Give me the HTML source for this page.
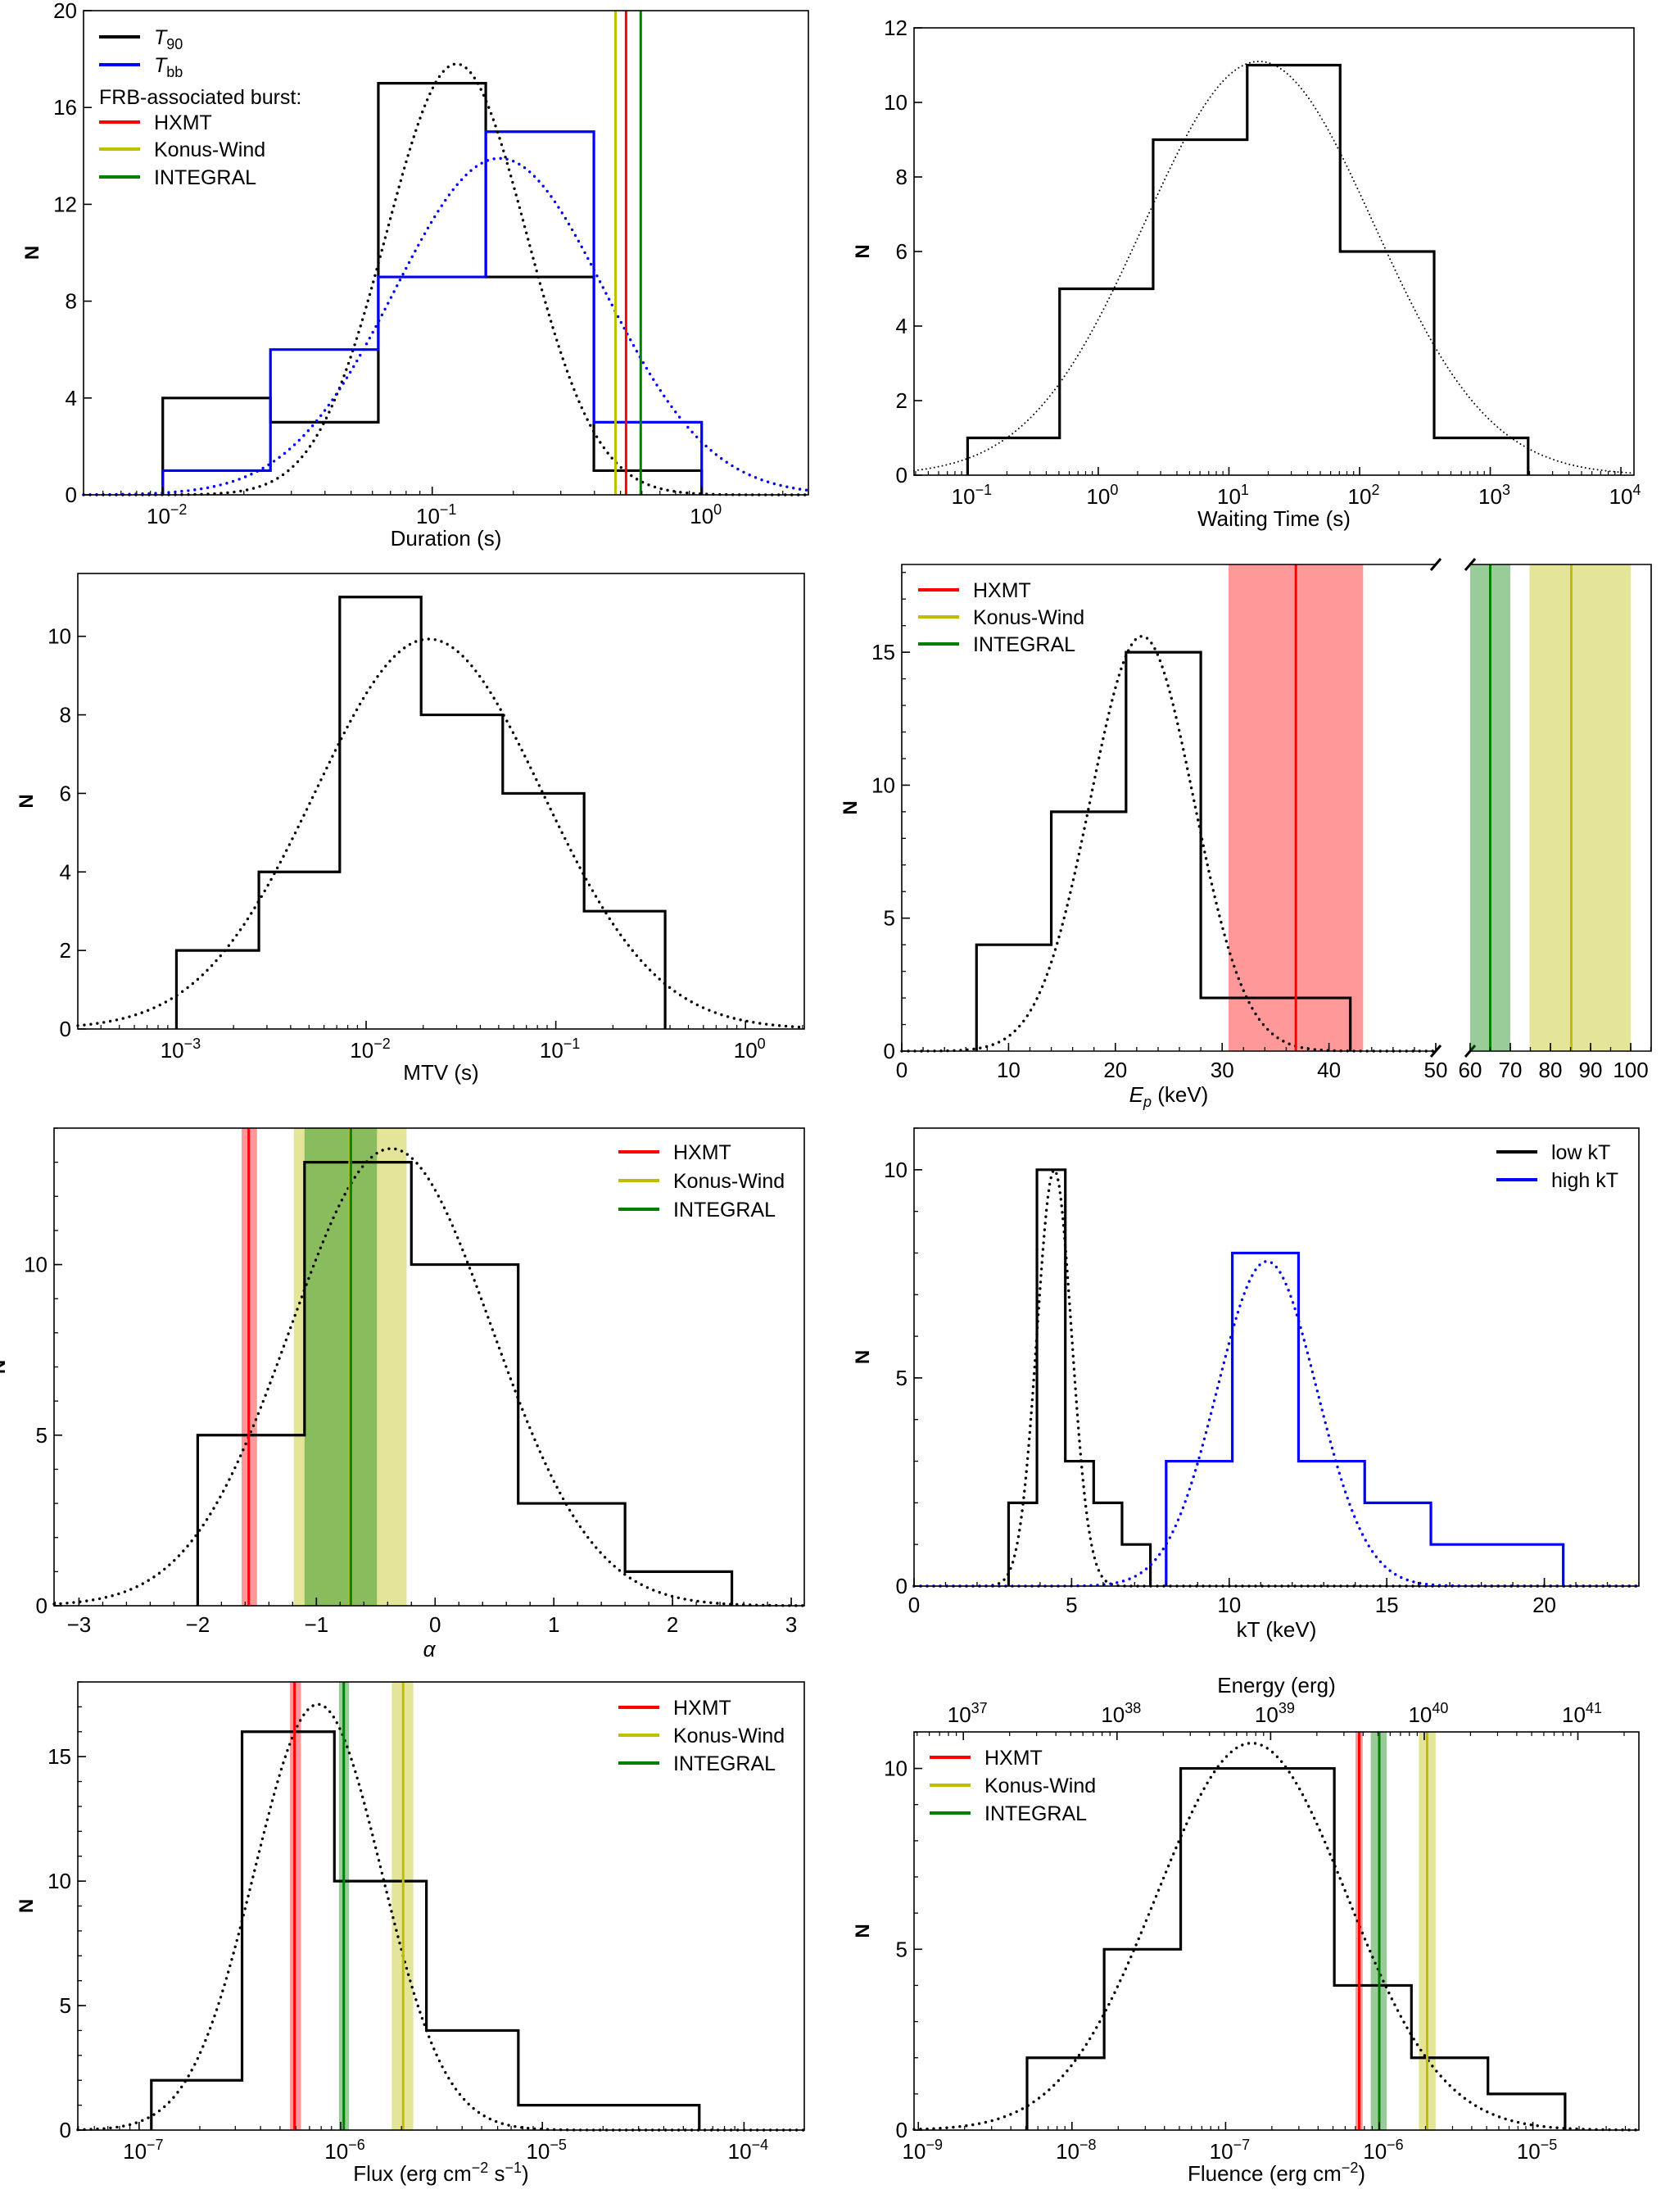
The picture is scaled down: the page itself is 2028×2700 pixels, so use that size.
<!DOCTYPE html>
<html><head><meta charset="utf-8"><title>Burst property histograms</title>
<style>
html,body{margin:0;padding:0;background:#fff;}
svg{display:block;font-family:"Liberation Sans",sans-serif;}
</style></head>
<body>
<svg id="fig" xmlns="http://www.w3.org/2000/svg" width="2028" height="2700" viewBox="0 0 2028 2700"></svg>
<script>
// ---------- Panel 1: Duration ----------
const durEdges=[0.01,0.0251,0.0631,0.158,0.398,1.0];
const t90Counts=[4,3,17,9,1];
const tbbCounts=[1,6,9,15,3];
const t90Fit=[17.8,-0.91,0.26];
const tbbFit=[13.9,-0.75,0.39];
const durBurstNames=['Konus-Wind','HXMT','INTEGRAL'];
const durBurstValues=[0.479,0.524,0.594];
// ---------- Panel 2: Waiting time ----------
const waitEdges=[0.1,0.506,2.63,13.8,71,372,1950];
const waitCounts=[1,5,9,11,6,1];
const waitFit=[11.1,1.23,0.88];
// ---------- Panel 3: MTV ----------
const mtvEdges=[0.001,0.00272,0.00726,0.0195,0.0525,0.141,0.377];
const mtvCounts=[2,4,11,8,6,3];
const mtvFit=[9.93,-1.67,0.6];
// ---------- Panel 4: Ep ----------
const epEdges=[7,14,21,28,42];
const epCounts=[4,9,15,2];
const epFit=[15.6,22.5,4.84];
const epHxmt=[36.9,30.6,43.2];
const epKonus=[85.2,74.8,100];
const epIntegral=[65,60,70];
// ---------- Panel 5: alpha ----------
const alphaEdges=[-2,-1.1,-0.2,0.7,1.6,2.5];
const alphaCounts=[5,13,10,3,1];
const alphaFit=[13.4,-0.37,0.85];
const alphaHxmt=[-1.57,-1.63,-1.5];
const alphaKonus=[-0.72,-1.19,-0.24];
const alphaIntegral=[-0.71,-1.1,-0.49];
// ---------- Panel 6: kT ----------
const lowEdges=[3,3.9,4.8,5.7,6.6,7.5];
const lowCounts=[2,10,3,2,1];
const lowFit=[10,4.45,0.55];
const highEdges=[8,10.1,12.2,14.3,16.4,18.5,20.6];
const highCounts=[3,8,3,2,1,1];
const highFit=[7.8,11.2,1.58];
// ---------- Panel 7: Flux ----------
const fluxEdges=[1.15e-7,3.24e-7,9.3e-7,2.66e-6,7.6e-6,2.14e-5,6.0e-5];
const fluxCounts=[2,16,10,4,1,1];
const fluxFit=[17.1,-6.113,0.316];
const fluxHxmt=[5.9e-7,5.6e-7,6.35e-7];
const fluxKonus=[2.04e-6,1.79e-6,2.29e-6];
const fluxIntegral=[1.035e-6,0.98e-6,1.1e-6];
// ---------- Panel 8: Fluence ----------
const fluEdges=[5.1e-9,1.62e-8,5.1e-8,1.62e-7,5.1e-7,1.62e-6,5.1e-6,1.62e-5];
const fluCounts=[2,5,10,10,4,2,1];
const fluFit=[10.7,-6.83,0.62];
const fluHxmt=[7.4e-7,7.0e-7,7.8e-7];
const fluKonus=[2.05e-6,1.81e-6,2.33e-6];
const fluIntegral=[1.0e-6,0.88e-6,1.12e-6];
const energyOffset=45.707;

const NS='http://www.w3.org/2000/svg';
const svg=document.getElementById('fig');
const RED='#ff0000',YEL='#bfbf00',GRN='#008000',BLU='#0000ff';
const TF=26;
function mk(tag,attrs,parent){const e=document.createElementNS(NS,tag);for(const k in attrs)e.setAttribute(k,attrs[k]);parent.appendChild(e);return e;}

function makeAxes(name,L,R,T,B,xmin,xmax,xlog,ymin,ymax){
  const g=mk('g',{},svg);
  
  
  const st=t=>L+(t-xmin)/(xmax-xmin)*(R-L);
  const tr=v=>xlog?Math.log10(v):v;
  const sx=v=>st(tr(v));
  const sy=v=>B-(v-ymin)/(ymax-ymin)*(B-T);
  return {g,L,R,T,B,xmin,xmax,xlog,ymin,ymax,st,sx,sy,tr};
}
function frame(p){
  const r=mk('rect',{x:p.L,y:p.T,width:p.R-p.L,height:p.B-p.T,fill:'none',stroke:'#000','stroke-width':1.6},p.g);
  
  
}
function yTicks(p,majors,minorStep,x0){
  const L=x0===undefined?p.L:x0;
  const grp=mk('g',{},p.g);
  
  
  if(minorStep){for(let v=p.ymin;v<=p.ymax+1e-9;v+=minorStep){mk('line',{x1:L,x2:L+5,y1:p.sy(v),y2:p.sy(v),stroke:'#000','stroke-width':1.3},grp);}}
  majors.forEach(v=>{
    mk('line',{x1:L,x2:L+10,y1:p.sy(v),y2:p.sy(v),stroke:'#000','stroke-width':1.6},grp);
    const t=mk('text',{x:L-8,y:p.sy(v)+9,'text-anchor':'end','font-size':TF},grp);
    t.textContent=String(v);
    
    
  });
}
function xTicksLin(p,majors,minorStep,from,to){
  const grp=mk('g',{},p.g);
  
  
  if(minorStep){for(let v=from;v<=to+1e-9;v+=minorStep){mk('line',{x1:p.sx(v),x2:p.sx(v),y1:p.B,y2:p.B-5,stroke:'#000','stroke-width':1.3},grp);}}
  majors.forEach(v=>{
    mk('line',{x1:p.sx(v),x2:p.sx(v),y1:p.B,y2:p.B-10,stroke:'#000','stroke-width':1.6},grp);
    const t=mk('text',{x:p.sx(v),y:p.B+32,'text-anchor':'middle','font-size':TF},grp);
    t.textContent=String(v).replace('-','\u2212');
    
    
  });
}
function logLabel(parent,x,y,exp){
  const t=mk('text',{x:x,y:y,'text-anchor':'middle','font-size':TF},parent);
  t.textContent='10';
  const s=mk('tspan',{dy:-11,'font-size':18},t);
  s.textContent=String(exp).replace('-','\u2212');
  return t;
}
function xTicksLog(p,top,offset){
  const off=offset||0;
  const grp=mk('g',{},p.g);
  
  
  const y0=top?p.T:p.B, dir=top?1:-1;
  for(let d=Math.floor(p.xmin+off)-1;d<=Math.ceil(p.xmax+off);d++){
    for(let k=1;k<10;k++){
      const t=d+Math.log10(k)-off;
      if(t<p.xmin||t>p.xmax)continue;
      const len=k===1?10:5;
      mk('line',{x1:p.st(t),x2:p.st(t),y1:y0,y2:y0+dir*len,stroke:'#000','stroke-width':k===1?1.6:1.2},grp);
      if(k===1){
        const lab=logLabel(grp,p.st(t)+5,top?p.T-12:p.B+35,d);
        
        
      }
    }
  }
}
function yTitle(p,x){
  const cy=(p.T+p.B)/2;
  const t=mk('text',{x:x,y:cy,'text-anchor':'middle','font-size':24,'font-weight':'bold',transform:`rotate(-90 ${x} ${cy})`},p.g);
  t.textContent='N';
  
  
}
function xTitle(p,html,cx){
  const t=mk('text',{x:cx===undefined?(p.L+p.R)/2:cx,y:p.B+62,'text-anchor':'middle','font-size':TF},p.g);
  t.innerHTML=html;
  
  
  return t;
}
function hist(p,edges,counts,color,name){
  let d=`M${p.sx(edges[0])},${p.sy(0)}`;
  counts.forEach((c,i)=>{d+=` L${p.sx(edges[i])},${p.sy(c)} L${p.sx(edges[i+1])},${p.sy(c)}`;});
  d+=` L${p.sx(edges[edges.length-1])},${p.sy(0)}`;
  const e=mk('path',{d:d,fill:'none',stroke:color,'stroke-width':3.2,'stroke-linejoin':'miter'},p.g);
  
  
}
function gauss(p,fit,color,name,thin,tmin,tmax){
  const a=tmin===undefined?p.xmin:tmin,b=tmax===undefined?p.xmax:tmax;
  let d='';
  for(let i=0;i<=400;i++){
    const t=a+(b-a)*i/400;
    const v=fit[0]*Math.exp(-Math.pow(t-fit[1],2)/(2*fit[2]*fit[2]));
    d+=(i?' L':'M')+p.st(t).toFixed(2)+','+p.sy(v).toFixed(2);
  }
  const e=mk('path',{d:d,fill:'none',stroke:color,'stroke-width':thin?2:3.4,'stroke-dasharray':thin?'0 5':'0 8','stroke-linecap':'round'},p.g);
  
  
}
function band(p,lo,hi,color,name){
  const x1=p.sx(lo),x2=p.sx(hi);
  const e=mk('rect',{x:x1,y:p.T,width:x2-x1,height:p.B-p.T,fill:color,'fill-opacity':0.4},p.g);
  
  
}
function vline(p,v,color,name){
  const e=mk('line',{x1:p.sx(v),x2:p.sx(v),y1:p.T,y2:p.B,stroke:color,'stroke-width':3},p.g);
  
  
}
function legend(p,x,ys,items){
  const grp=mk('g',{},p.g);
  
  
  items.forEach((it,i)=>{
    if(it.color){
      const l=mk('line',{x1:x,x2:x+50,y1:ys[i],y2:ys[i],stroke:it.color,'stroke-width':4},grp);
      
      
      const t=mk('text',{x:x+67,y:ys[i]+9,'font-size':25},grp);
      t.innerHTML=it.label;
      
      
    } else {
      const t=mk('text',{x:x,y:ys[i]+9,'font-size':25},grp);
      t.innerHTML=it.label;
      
      
    }
  });
}

// ===== Panel 1 =====
(function(){
  const p=makeAxes('duration-panel',102,987,13,604,-2.294,0.396,true,0,20);
  hist(p,durEdges,t90Counts,'#000','t90-histogram');
  hist(p,durEdges,tbbCounts,BLU,'tbb-histogram');
  gauss(p,t90Fit,'#000','t90-fit-curve');
  gauss(p,tbbFit,BLU,'tbb-fit-curve');
  const cols=[YEL,RED,GRN];
  durBurstValues.forEach((v,i)=>vline(p,v,cols[i],'burst-line-'+durBurstNames[i].toLowerCase()));
  frame(p);
  yTicks(p,[0,4,8,12,16,20],0);
  xTicksLog(p);
  yTitle(p,p.L-55);
  xTitle(p,'Duration (s)');
  legend(p,121,[45,79,118,149,182,216],[
    {color:'#000',label:'<tspan font-style="italic">T</tspan><tspan dy="6" font-size="18">90</tspan>'},
    {color:BLU,label:'<tspan font-style="italic">T</tspan><tspan dy="6" font-size="18">bb</tspan>'},
    {label:'FRB-associated burst:'},
    {color:RED,label:'HXMT'},{color:YEL,label:'Konus-Wind'},{color:GRN,label:'INTEGRAL'}]);
})();

// ===== Panel 2 =====
(function(){
  const p=makeAxes('waiting-time-panel',1116,1995,34,580,-1.41,4.1,true,0,12);
  hist(p,waitEdges,waitCounts,'#000','waiting-time-histogram');
  gauss(p,waitFit,'#000','waiting-time-fit-curve',true);
  frame(p);
  yTicks(p,[0,2,4,6,8,10,12],0);
  xTicksLog(p);
  yTitle(p,p.L-55);
  xTitle(p,'Waiting Time (s)');
})();

// ===== Panel 3 =====
(function(){
  const p=makeAxes('mtv-panel',95,982,700,1256,-3.52,0.31,true,0,11.6);
  hist(p,mtvEdges,mtvCounts,'#000','mtv-histogram');
  gauss(p,mtvFit,'#000','mtv-fit-curve');
  frame(p);
  yTicks(p,[0,2,4,6,8,10],0);
  xTicksLog(p);
  yTitle(p,p.L-55);
  xTitle(p,'MTV (s)');
})();

// ===== Panel 4 =====
(function(){
  const p=makeAxes('peak-energy-panel',1101,1753,689,1283,0,50,false,0,18.3);
  const q=makeAxes('peak-energy-break-panel',1795,2016,689,1283,60,105.1,false,0,18.3);
  band(p,epHxmt[1],epHxmt[2],RED,'hxmt-band');
  band(q,epIntegral[1],epIntegral[2],GRN,'integral-band');
  band(q,epKonus[1],epKonus[2],YEL,'konus-wind-band');
  hist(p,epEdges,epCounts,'#000','ep-histogram');
  gauss(p,epFit,'#000','ep-fit-curve');
  vline(p,epHxmt[0],RED,'hxmt-line');
  vline(q,epIntegral[0],GRN,'integral-line');
  vline(q,epKonus[0],YEL,'konus-wind-line');
  const sp={stroke:'#000','stroke-width':1.6,fill:'none'};
  mk('path',Object.assign({d:`M${p.R},${p.T} L${p.L},${p.T} L${p.L},${p.B} L${p.R},${p.B}`},sp),p.g);
  mk('path',Object.assign({d:`M${q.L},${q.T} L${q.R},${q.T} L${q.R},${q.B} L${q.L},${q.B}`},sp),q.g);
  [[p.R,p.T],[p.R,p.B],[q.L,q.T],[q.L,q.B]].forEach(c=>{
    const b=mk('line',{x1:c[0]-6,y1:c[1]+7,x2:c[0]+6,y2:c[1]-7,stroke:'#000','stroke-width':3},p.g);
    
    
  });
  yTicks(p,[0,5,10,15],1);
  xTicksLin(p,[0,10,20,30,40,50],2,0,50);
  xTicksLin(q,[60,70,80,90,100],5,60,105);
  yTitle(p,p.L-55);
  xTitle(p,'<tspan font-style="italic">E</tspan><tspan dy="6" font-size="18" font-style="italic">p</tspan><tspan dy="-6"> (keV)</tspan>');
  legend(p,1121,[720,753,786],[{color:RED,label:'HXMT'},{color:YEL,label:'Konus-Wind'},{color:GRN,label:'INTEGRAL'}]);
})();

// ===== Panel 5 =====
(function(){
  const p=makeAxes('alpha-panel',66,982,1377,1960,-3.21,3.11,false,0,14.0);
  band(p,alphaHxmt[1],alphaHxmt[2],RED,'hxmt-band');
  band(p,alphaKonus[1],alphaKonus[2],YEL,'konus-wind-band');
  band(p,alphaIntegral[1],alphaIntegral[2],GRN,'integral-band');
  hist(p,alphaEdges,alphaCounts,'#000','alpha-histogram');
  gauss(p,alphaFit,'#000','alpha-fit-curve');
  vline(p,alphaHxmt[0],RED,'hxmt-line');
  vline(p,alphaKonus[0],YEL,'konus-wind-line');
  vline(p,alphaIntegral[0],GRN,'integral-line');
  frame(p);
  yTicks(p,[0,5,10],1);
  xTicksLin(p,[-3,-2,-1,0,1,2,3],0.2,-3.2,3.1);
  yTitle(p,p.L-60);
  xTitle(p,'<tspan font-style="italic">\u03b1</tspan>');
  legend(p,755,[1406,1441,1476],[{color:RED,label:'HXMT'},{color:YEL,label:'Konus-Wind'},{color:GRN,label:'INTEGRAL'}]);
})();

// ===== Panel 6 =====
(function(){
  const p=makeAxes('kt-panel',1116,2001,1377,1936,0,23,false,0,11.0);
  hist(p,lowEdges,lowCounts,'#000','low-kt-histogram');
  hist(p,highEdges,highCounts,BLU,'high-kt-histogram');
  gauss(p,lowFit,'#000','low-kt-fit-curve');
  gauss(p,highFit,BLU,'high-kt-fit-curve');
  frame(p);
  yTicks(p,[0,5,10],1);
  xTicksLin(p,[0,5,10,15,20],1,0,23);
  yTitle(p,p.L-55);
  xTitle(p,'kT (keV)');
  legend(p,1827,[1406,1440],[{color:'#000',label:'low kT'},{color:BLU,label:'high kT'}]);
})();

// ===== Panel 7 =====
(function(){
  const p=makeAxes('flux-panel',95,982,2053,2600,-7.304,-3.701,true,0,18.0);
  band(p,fluxHxmt[1],fluxHxmt[2],RED,'hxmt-band');
  band(p,fluxIntegral[1],fluxIntegral[2],GRN,'integral-band');
  band(p,fluxKonus[1],fluxKonus[2],YEL,'konus-wind-band');
  hist(p,fluxEdges,fluxCounts,'#000','flux-histogram');
  gauss(p,fluxFit,'#000','flux-fit-curve');
  vline(p,fluxHxmt[0],RED,'hxmt-line');
  vline(p,fluxIntegral[0],GRN,'integral-line');
  vline(p,fluxKonus[0],YEL,'konus-wind-line');
  frame(p);
  yTicks(p,[0,5,10,15],1);
  xTicksLog(p);
  yTitle(p,p.L-55);
  xTitle(p,'Flux (erg cm<tspan dy="-10" font-size="18">\u22122</tspan><tspan dy="10"> s</tspan><tspan dy="-10" font-size="18">\u22121</tspan><tspan dy="10">)</tspan>');
  legend(p,755,[2084,2118,2152],[{color:RED,label:'HXMT'},{color:YEL,label:'Konus-Wind'},{color:GRN,label:'INTEGRAL'}]);
})();

// ===== Panel 8 =====
(function(){
  const p=makeAxes('fluence-panel',1116,2001,2114,2600,-9.028,-4.31,true,0,11.01);
  band(p,fluHxmt[1],fluHxmt[2],RED,'hxmt-band');
  band(p,fluIntegral[1],fluIntegral[2],GRN,'integral-band');
  band(p,fluKonus[1],fluKonus[2],YEL,'konus-wind-band');
  hist(p,fluEdges,fluCounts,'#000','fluence-histogram');
  gauss(p,fluFit,'#000','fluence-fit-curve');
  vline(p,fluHxmt[0],RED,'hxmt-line');
  vline(p,fluIntegral[0],GRN,'integral-line');
  vline(p,fluKonus[0],YEL,'konus-wind-line');
  frame(p);
  yTicks(p,[0,5,10],1);
  xTicksLog(p);
  xTicksLog(p,true,energyOffset);
  yTitle(p,p.L-55);
  xTitle(p,'Fluence (erg cm<tspan dy="-10" font-size="18">\u22122</tspan><tspan dy="10">)</tspan>');
  const et=mk('text',{x:(p.L+p.R)/2,y:2066,'text-anchor':'middle','font-size':TF},p.g);
  et.textContent='Energy (erg)';
  
  
  legend(p,1135,[2145,2179,2213],[{color:RED,label:'HXMT'},{color:YEL,label:'Konus-Wind'},{color:GRN,label:'INTEGRAL'}]);
})();
</script>
</body></html>
